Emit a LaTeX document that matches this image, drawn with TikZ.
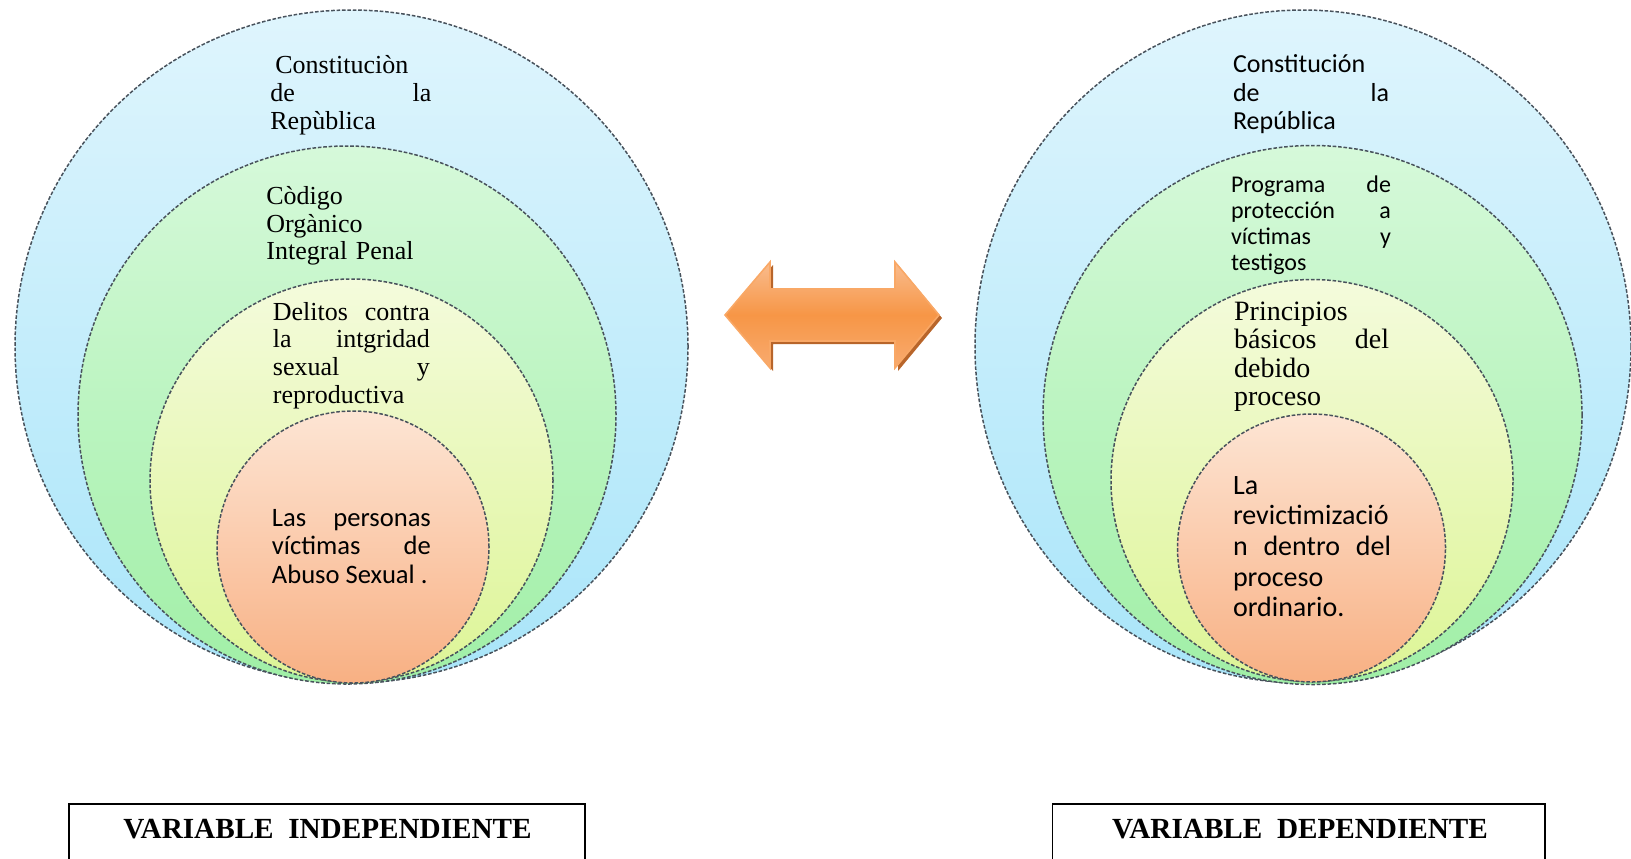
\documentclass[tikz,border=0pt]{standalone}
\usepackage{fontspec}
\setmainfont{Liberation Serif}
\newfontfamily\carlito{Carlito}
\usetikzlibrary{shapes.geometric}
\definecolor{blueT}{HTML}{DFF5FD}
\definecolor{blueB}{HTML}{A9E5F9}
\definecolor{greenT}{HTML}{D6F9DA}
\definecolor{greenB}{HTML}{A0EFA6}
\definecolor{yelT}{HTML}{F4FBDC}
\definecolor{yelB}{HTML}{DDF596}
\definecolor{orT}{HTML}{FDE5D4}
\definecolor{orB}{HTML}{F8B083}
\definecolor{ringline}{HTML}{48525C}
\definecolor{arrT}{HTML}{F9BC8E}
\definecolor{arrM}{HTML}{F79646}
\definecolor{arrB}{HTML}{F8AB70}
\definecolor{arrEdge}{HTML}{F9A866}
\definecolor{arrShadow}{HTML}{B8652A}
\begin{document}
\begin{tikzpicture}[x=0.5pt,y=-0.5pt,
  ring/.style={draw=ringline, line width=0.75pt, dash pattern=on 1.8pt off 0.9pt, inner sep=0pt, outer sep=0pt},
  bluering/.style={ring, circle, top color=blueT, bottom color=blueB},
  blueoval/.style={ring, ellipse, top color=blueT, bottom color=blueB},
  greenring/.style={ring, circle, top color=greenT, bottom color=greenB},
  yelring/.style={ring, circle, top color=yelT, bottom color=yelB},
  orring/.style={ring, circle, top color=orT, bottom color=orB},
  txt/.style={inner sep=0pt, anchor=base west, align=justify},
  varbox/.style={draw=black, line width=0.8pt, inner sep=0pt, anchor=north},
  vartext/.style={inner sep=0pt, font=\bfseries\fontsize{14.6}{16}\selectfont}
]
\useasboundingbox (0,0) rectangle (1631,858);

% ---------- left rings ----------
\node[bluering, minimum size=336.5pt] (lblue) at (351.5,346.5) {};
\node[greenring, minimum size=269pt] (lgreen) at (347,415) {};
\node[yelring, minimum size=201.5pt] (lyel) at (351.5,480.5) {};
\node[orring, minimum size=136pt] (lor) at (353,547) {};

% ---------- right rings ----------
\node[blueoval, minimum width=328pt, minimum height=336.5pt] (rblue) at (1303,346.5) {};
\node[greenring, minimum size=269.5pt] (rgreen) at (1312.5,415) {};
\node[yelring, minimum size=201pt] (ryel) at (1312,480.5) {};
\node[orring, minimum size=134pt] (ror) at (1311.5,548) {};

% ---------- left texts ----------
\node[txt, text width=80.5pt, font=\fontsize{13}{14}\selectfont] (l1) at (270,73.5)
  {\hspace*{2.5pt}Constituciòn\linebreak de la\linebreak Repùblica};
\node[txt, align=left, text width=85pt, font=\fontsize{13}{13.8}\selectfont] (l2) at (266,204.5)
  {Còdigo\\ Orgànico\\ Integral Penal};
\node[txt, text width=78.5pt, font=\fontsize{13}{13.85}\selectfont] (l3) at (272.5,320)
  {Delitos contra\linebreak la intgridad\linebreak sexual y\linebreak reproductiva};
\node[txt, text width=79.5pt, font=\carlito\fontsize{13.3}{14.25}\selectfont] (l4) at (271.5,526)
  {Las personas\linebreak víctimas de\linebreak Abuso Sexual .};

% ---------- right texts ----------
\node[txt, text width=78pt, font=\carlito\fontsize{13}{14.3}\selectfont] (r1) at (1232.6,72.5)
  {Constitución\linebreak de la\linebreak República};
\node[txt, text width=80pt, font=\carlito\fontsize{12}{13}\selectfont] (r2) at (1230.6,192)
  {Programa de\linebreak protección a\linebreak víctimas y\linebreak testigos};
\node[txt, text width=77.5pt, font=\fontsize{14}{14.3}\selectfont] (r3) at (1233.7,320)
  {Principios\linebreak básicos del\linebreak debido\linebreak proceso};
\node[txt, text width=79pt, font=\carlito\fontsize{14}{15.35}\selectfont] (r4) at (1232.6,494)
  {La\linebreak revictimizació\linebreak n dentro del\linebreak proceso\linebreak ordinario.};

% ---------- double arrow ----------
\fill[arrShadow] (728,318) -- (773,265) -- (773,292) -- (898,292) -- (898,265) -- (942,318)
  -- (898,371) -- (898,344) -- (773,344) -- (773,371) -- cycle;
\draw[arrEdge, line width=0.8pt, top color=arrT, bottom color=arrB, middle color=arrM]
  (725,315) -- (770,262) -- (770,289) -- (895,289) -- (895,262) -- (939,315)
  -- (895,368) -- (895,341) -- (770,341) -- (770,368) -- cycle;

% ---------- variable boxes ----------
\node[varbox, minimum width=258pt, minimum height=35pt] (vbl) at (327,803) {};
\node[vartext] (vtl) at (327.5,829) {VARIABLE\ \ INDEPENDIENTE};
\node[varbox, minimum width=246.25pt, minimum height=35pt] (vbr) at (1298.75,803) {};
\node[vartext] (vtr) at (1300,829) {VARIABLE\ \ DEPENDIENTE};
\end{tikzpicture}
\end{document}
